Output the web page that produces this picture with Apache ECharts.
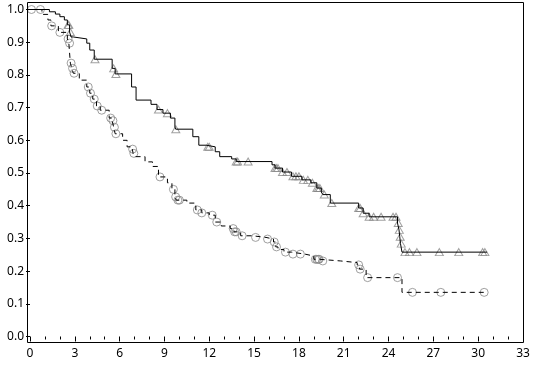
<!DOCTYPE html>
<html>
<head>
<meta charset="utf-8">
<script src="https://cdn.jsdelivr.net/npm/echarts@6/dist/echarts.min.js"></script>
<style>
html,body{margin:0;padding:0;background:#fff;}
#chart{width:535px;height:370px;}
</style>
</head>
<body>
<div id="chart"></div>
<script>
// Survival curve steps: [time, survival]
const groupASteps = [
  [0,1.0],[1.3,0.993],[1.7,0.986],[2.0,0.978],[2.3,0.968],[2.5,0.953],[2.65,0.931],[2.75,0.916],[2.9,0.91],
  [3.8,0.897],[4.0,0.876],[4.3,0.848],[5.5,0.82],[5.7,0.803],[6.8,0.763],[7.1,0.723],[8.1,0.71],[8.5,0.694],
  [8.9,0.683],[9.4,0.668],[9.7,0.641],[9.75,0.634],[10.9,0.611],[11.3,0.585],[11.8,0.58],[12.4,0.565],
  [12.7,0.55],[13.5,0.543],[13.8,0.535],[16.2,0.525],[16.4,0.515],[16.9,0.503],[17.5,0.49],[18.2,0.479],
  [18.8,0.47],[19.2,0.454],[19.5,0.442],[19.6,0.434],[20.1,0.408],[22.0,0.393],[22.3,0.377],[22.7,0.366],
  [24.6,0.347],[24.7,0.326],[24.75,0.305],[24.8,0.284],[24.9,0.258],[30.6,0.258]
];
const groupACensored = [
  2.55,2.6,2.7,4.35,5.6,5.75,8.6,9.2,9.76,11.9,12.0,13.8,13.9,14.6,16.4,16.5,16.6,16.9,17.2,17.6,17.8,
  18.0,18.3,18.6,18.9,19.2,19.3,19.4,19.7,20.2,22.0,22.1,22.3,22.7,23.0,23.5,24.3,24.5,24.65,24.72,
  24.78,24.85,25.1,25.4,25.9,27.4,28.7,30.3,30.45
];
const groupBSteps = [
  [0,1.0],[0.8,0.985],[1.2,0.968],[1.4,0.95],[1.9,0.93],[2.5,0.91],[2.6,0.897],[2.7,0.836],[2.8,0.82],
  [2.9,0.805],[3.3,0.784],[3.8,0.763],[4.0,0.744],[4.2,0.726],[4.45,0.705],[4.7,0.692],[5.3,0.668],
  [5.5,0.66],[5.6,0.64],[5.7,0.62],[6.2,0.6],[6.5,0.58],[6.85,0.573],[6.9,0.56],[7.0,0.55],[7.7,0.534],
  [8.2,0.52],[8.6,0.488],[9.2,0.47],[9.5,0.45],[9.7,0.427],[9.8,0.417],[10.5,0.408],[11.1,0.387],
  [11.5,0.378],[12.0,0.371],[12.4,0.35],[12.8,0.338],[13.4,0.33],[13.65,0.32],[14.1,0.308],[14.9,0.303],
  [15.8,0.298],[16.3,0.289],[16.45,0.274],[16.6,0.266],[17.0,0.258],[17.5,0.252],[18.4,0.246],
  [19.0,0.236],[19.4,0.231],[20.8,0.226],[21.9,0.219],[22.05,0.206],[22.5,0.18],[24.9,0.135],[30.5,0.135]
];
const groupBCensored = [
  0.1,0.7,1.45,2.0,2.55,2.65,2.75,2.85,2.95,3.9,4.05,4.3,4.5,4.8,5.4,5.55,5.65,5.75,6.87,6.95,8.7,9.6,
  9.75,9.9,10.0,11.2,11.5,12.2,12.5,13.6,13.7,13.8,14.2,15.1,15.9,16.35,16.5,17.1,17.6,18.1,19.1,19.2,
  19.3,19.35,19.6,22.0,22.1,22.6,24.6,25.6,27.5,30.4
];
const xTicks = {min:0, max:33, interval:3};
const yTicks = {min:0, max:1, interval:0.1};

function survivalAt(steps, t){
  let v = steps[0][1];
  for (const [x,y] of steps){ if (x <= t) v = y; else break; }
  return v;
}

const chart = echarts.init(document.getElementById('chart'), null, {renderer:'canvas'});
const font = 'Noto Sans';
chart.setOption({
  animation:false,
  backgroundColor:'#fff',
  grid:{left:30, right:12, top:9.5, bottom:33.5},
  xAxis:{
    type:'value', min:xTicks.min, max:xTicks.max, interval:xTicks.interval, offset:6,
    axisLine:{show:false},
    axisTick:{show:true, length:5, lineStyle:{color:'#000'}},
    minorTick:{show:true, splitNumber:3, length:3, lineStyle:{color:'#000'}},
    splitLine:{show:false},
    axisLabel:{fontFamily:font, fontSize:12, color:'#000', margin:5}
  },
  yAxis:{
    type:'value', min:yTicks.min, max:yTicks.max, interval:yTicks.interval, offset:3,
    axisLine:{show:false},
    axisTick:{show:true, length:4, lineStyle:{color:'#000'}},
    splitLine:{show:false},
    axisLabel:{fontFamily:font, fontSize:12, color:'#000', margin:3, formatter:v=>v.toFixed(1)}
  },
  graphic:[{
    type:'rect', shape:{x:27.5, y:2.5, width:496, height:340},
    style:{fill:'none', stroke:'#000', lineWidth:1}, silent:true, z:100
  }],
  series:[
    {type:'scatter', data:groupACensored.map(t=>[t, survivalAt(groupASteps,t)]),
     symbol:'triangle', symbolSize:[8,7], z:1,
     itemStyle:{color:'rgba(0,0,0,0)', borderColor:'#888', borderWidth:1}},
    {type:'scatter', data:groupBCensored.map(t=>[t, survivalAt(groupBSteps,t)]),
     symbol:'circle', symbolSize:8, z:1,
     itemStyle:{color:'rgba(0,0,0,0)', borderColor:'#888', borderWidth:1}},
    {type:'line', step:'end', data:groupASteps, showSymbol:false, symbol:'none', z:2,
     lineStyle:{color:'#000', width:1}},
    {type:'line', step:'end', data:groupBSteps, showSymbol:false, symbol:'none', z:2,
     lineStyle:{color:'#000', width:1, type:[5,4]}}
  ]
});
</script>
</body>
</html>
